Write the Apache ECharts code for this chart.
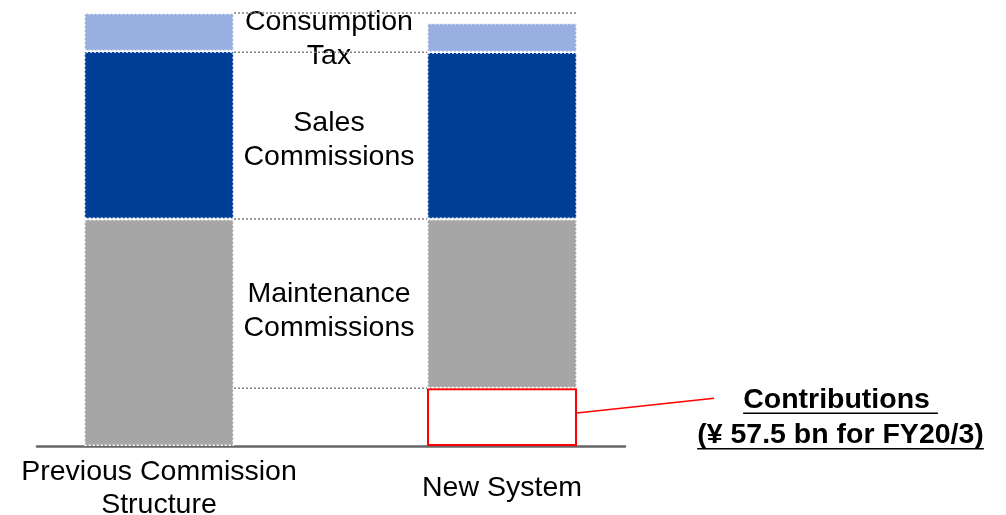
<!DOCTYPE html>
<html>
<head>
<meta charset="utf-8">
<title>Commission Structure</title>
<script src="https://cdn.jsdelivr.net/npm/echarts@6/dist/echarts.min.js"></script>
<style>
  html, body { margin: 0; padding: 0; background: #fff; }
  #chart { width: 1006px; height: 515px; }
</style>
</head>
<body>
<div id="chart"></div>
<script>
// Categories and stacked segment values (¥ bn)
const categories = ['Previous Commission\nStructure', 'New System'];
const contributions = ['-', 57.5];
const maintenance = [226, 168.5];
const sales = [167, 166];
const consumptionTax = [38, 29];
const segmentLabels = ['Maintenance\nCommissions', 'Sales\nCommissions', 'Consumption\nTax'];
const noteLines = ['Contributions ', '(¥ 57.5 bn for FY20/3)'];

const BAR_WIDTH = 150;
const FONT = '"Liberation Sans", Arial, Helvetica, sans-serif';
const TEXT_SIZE = 28.5;
const NOTE_FONT = 'bold ' + TEXT_SIZE + 'px ' + FONT;

const leftTotal = maintenance[0] + sales[0] + consumptionTax[0];
const newContrib = contributions[1];

// Dotted guides that link the segment boundaries of the two bars
const connectorData = [
  [0, leftTotal, 1],
  [0, newContrib + maintenance[1] + sales[1], 0],
  [0, maintenance[0], 0],
  [0, newContrib, 0]
];

const measureCtx = document.createElement('canvas').getContext('2d');
function textWidth(text, font) {
  measureCtx.font = font;
  return measureCtx.measureText(text).width;
}

function segmentSeries(name, values, color, labelText, labelY) {
  return {
    name: name,
    type: 'bar',
    stack: 'total',
    barWidth: BAR_WIDTH,
    itemStyle: { color: color, borderColor: '#ffffff', borderWidth: 1.5, borderType: [2, 2] },
    data: values.map(function (v, i) {
      if (i !== 1) return v;
      return {
        value: v,
        label: {
          show: true,
          formatter: labelText,
          position: [-98, labelY],
          offset: [0, 2],
          align: 'center',
          verticalAlign: 'middle',
          color: '#000',
          fontFamily: FONT,
          fontSize: TEXT_SIZE,
          lineHeight: 34
        }
      };
    })
  };
}

const chart = echarts.init(document.getElementById('chart'), null, { renderer: 'canvas' });

chart.setOption({
  animation: false,
  backgroundColor: '#ffffff',
  grid: [
    { left: -12.5, right: 332.5, top: 13, bottom: 69, outerBoundsMode: 'none' },
    { left: 37, right: 381, top: 13, bottom: 69, outerBoundsMode: 'none' }
  ],
  xAxis: [
    {
      type: 'category',
      gridIndex: 0,
      data: categories,
      axisLine: { show: false },
      axisTick: { show: false },
      splitLine: { show: false },
      axisLabel: {
        interval: 0,
        color: '#000',
        fontFamily: FONT,
        fontSize: TEXT_SIZE,
        lineHeight: 33,
        verticalAlign: 'middle',
        margin: 42.5
      }
    },
    {
      type: 'value',
      gridIndex: 1,
      axisLine: { show: true, onZero: false, lineStyle: { color: '#666666', width: 2.6 } },
      axisTick: { show: false },
      axisLabel: { show: false },
      splitLine: { show: false }
    }
  ],
  yAxis: [
    { type: 'value', gridIndex: 0, min: 0, max: leftTotal, show: false },
    { type: 'value', gridIndex: 1, show: false }
  ],
  series: [
    {
      name: 'Contributions',
      type: 'bar',
      stack: 'total',
      barWidth: BAR_WIDTH,
      itemStyle: { color: '#ffffff', borderColor: '#ff0000', borderWidth: 2 },
      data: contributions
    },
    segmentSeries('Maintenance Commissions', maintenance, '#a6a6a6', segmentLabels[0], '53%'),
    segmentSeries('Sales Commissions', sales, '#003f97', segmentLabels[1], '51.5%'),
    segmentSeries('Consumption Tax', consumptionTax, '#98afdf', segmentLabels[2], '50%'),
    {
      name: 'Guides',
      type: 'custom',
      z: 3,
      silent: true,
      encode: { x: 0, y: 1 },
      data: connectorData,
      renderItem: function (params, api) {
        const level = api.value(1);
        const from = api.coord([0, level]);
        const to = api.coord([1, level]);
        const x2 = api.value(2) ? to[0] + BAR_WIDTH / 2 : to[0] - BAR_WIDTH / 2;
        return {
          type: 'line',
          shape: { x1: from[0] + BAR_WIDTH / 2, y1: from[1], x2: x2, y2: from[1] },
          style: { stroke: '#7f7f7f', lineWidth: 1.5, lineDash: [2, 2] }
        };
      }
    },
    {
      name: 'Contributions note',
      type: 'custom',
      z: 3,
      silent: true,
      encode: { x: 0, y: 1 },
      data: [[1, newContrib]],
      renderItem: function (params, api) {
        const top = api.coord([api.value(0), api.value(1)]);
        const base = api.coord([api.value(0), 0]);
        const right = top[0] + BAR_WIDTH / 2;
        const boxTop = top[1];
        const cx = right + 263.5;
        const y1 = boxTop + 11.5;
        const y2 = boxTop + 47;
        const children = [
          {
            type: 'line',
            shape: { x1: right, y1: boxTop + (base[1] - boxTop) * 0.43, x2: right + 137, y2: boxTop + 10 },
            style: { stroke: '#ff0000', lineWidth: 1.5 }
          }
        ];
        [y1, y2].forEach(function (y, i) {
          const w = textWidth(noteLines[i], NOTE_FONT);
          children.push({
            type: 'text',
            style: {
              text: noteLines[i], x: cx, y: y, fill: '#000', font: NOTE_FONT,
              align: 'center', verticalAlign: 'middle',
              textAlign: 'center', textVerticalAlign: 'middle'
            }
          });
          children.push({
            type: 'line',
            shape: { x1: cx - w / 2, y1: y + 13.5, x2: cx + w / 2, y2: y + 13.5 },
            style: { stroke: '#000', lineWidth: 1.5 }
          });
        });
        return { type: 'group', children: children };
      }
    }
  ]
});
</script>
</body>
</html>
